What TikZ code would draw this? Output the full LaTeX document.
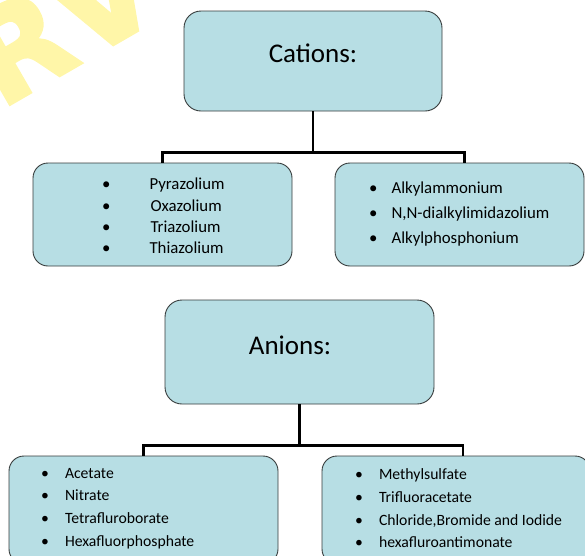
\documentclass[tikz,border=0pt]{standalone}
\usepackage{fontspec}
\setmainfont{Carlito}
\newfontfamily\markfont[FakeBold=2.5]{DejaVu Sans Bold}
\usetikzlibrary{positioning}
\definecolor{ionfill}{RGB}{183,222,228}
\definecolor{ionline}{RGB}{55,60,60}
\definecolor{markyellow}{RGB}{255,246,168}

\begin{document}
\begin{tikzpicture}[x=1pt,y=-1pt,
    headbox/.style={draw=ionline,fill=ionfill,line width=0.9pt,rounded corners=17pt},
    listbox/.style={draw=ionline,fill=ionfill,line width=0.9pt,rounded corners=15pt},
    headtext/.style={font=\fontsize{27}{30}\selectfont},
    listtext/.style={anchor=west,inner sep=0pt,align=left},
    link/.style={line width=2.6pt,black}]
    \useasboundingbox (0,0) rectangle (585,555);
    \clip (0,0) rectangle (585,555);
    % watermark
    \node[markyellow,rotate=30,anchor=base west,inner sep=0pt,
          font=\markfont\fontsize{125}{125}\selectfont] (watermark) at (0,110) {RV};
    % cations
    \node[headbox,minimum width=258pt,minimum height=100pt] (cations) at (313,61) {};
    \node[headtext] (cationslabel) at (313,53) {Cations:};
    \node[listbox,minimum width=259pt,minimum height=103pt] (catleft) at (162.5,214.5) {};
    \node[listbox,minimum width=249pt,minimum height=103pt] (catright) at (459.5,214.5) {};
    \node[listtext,font=\fontsize{16.8}{21.3}\selectfont] (catleftlist) at (102,216)
        {\textbullet\hspace{39pt}Pyrazolium\\ \textbullet\hspace{40pt}Oxazolium\\
         \textbullet\hspace{40pt}Triazolium\\ \textbullet\hspace{39pt}Thiazolium};
    \node[listtext,font=\fontsize{16.8}{25}\selectfont] (catrightlist) at (369,214.5)
        {\textbullet\hspace{14pt}Alkylammonium\\ \textbullet\hspace{14pt}N,N-dialkylimidazolium\\
         \textbullet\hspace{14pt}Alkylphosphonium};
    \draw[link] (cations.south) -- ++(0,41) coordinate (catjoin);
    \draw[link] (catleft.north) |- (catjoin) -| ([xshift=5pt]catright.north);
    % anions
    \node[headbox,minimum width=269pt,minimum height=104pt] (anions) at (299.5,352) {};
    \node[headtext] (anionslabel) at (290,345) {Anions:};
    \node[listbox,minimum width=269pt,minimum height=108pt] (anleft) at (143.5,510) {};
    \node[listbox,minimum width=268pt,minimum height=108pt] (anright) at (456,510) {};
    \node[listtext,font=\fontsize{15.7}{22.7}\selectfont] (anleftlist) at (41,508.5)
        {\textbullet\hspace{16pt}Acetate\\ \textbullet\hspace{16pt}Nitrate\\
         \textbullet\hspace{16pt}Tetrafluroborate\\ \textbullet\hspace{16pt}Hexafluorphosphate};
    \node[listtext,font=\fontsize{15.7}{22.7}\selectfont] (anrightlist) at (355,508.5)
        {\textbullet\hspace{16pt}Methylsulfate\\ \textbullet\hspace{16pt}Trifluoracetate\\
         \textbullet\hspace{16pt}Chloride,Bromide and Iodide\\ \textbullet\hspace{16pt}hexafluroantimonate};
    \draw[link] (anions.south) -- ++(0,41) coordinate (anjoin);
    \draw[link] (anleft.north) |- (anjoin) -| ([xshift=7pt]anright.north);
\end{tikzpicture}
\end{document}
